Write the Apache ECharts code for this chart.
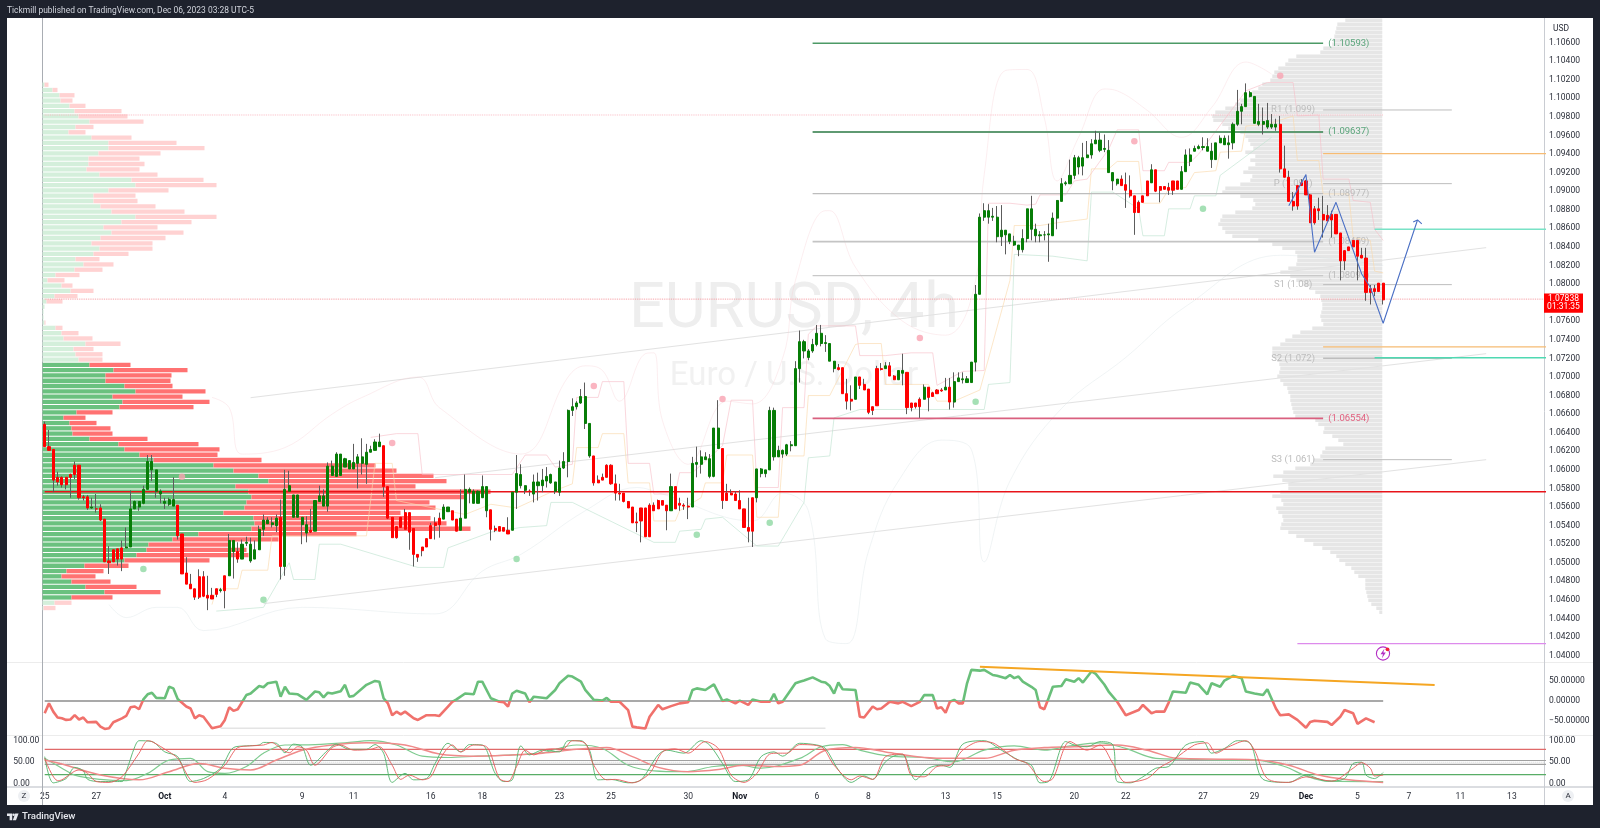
<!DOCTYPE html>
<html><head><meta charset="utf-8"><title>EURUSD 4h</title>
<style>html,body{margin:0;padding:0;background:#1e222d}#c{width:1600px;height:828px}</style>
<script src="https://cdn.jsdelivr.net/npm/echarts@6/dist/echarts.min.js"></script></head>
<body><div id="c"></div><script>
// prices are written in pips (price x 10000)
const opens=[10649,10625,10622,10592,10592,10592,10595,10605,10605,10571,
10571,10559,10558,10559,10547,10502,10514,10515,10516,10516,
10517,10558,10560,10564,10579,10600,10577,10574,10564,10563,
10561,10562,10531,10489,10477,10472,10485,10485,10465,10465,
10472,10470,10486,10486,10512,10512,10504,10521,10502,10504,
10514,10536,10542,10541,10540,10549,10496,10577,10549,10549,
10541,10532,10535,10534,10566,10561,10561,10594,10593,10594,
10603,10601,10601,10607,10607,10606,10619,10621,10625,10626,
10582,10549,10539,10549,10554,10554,10537,10509,10517,10526,
10540,10543,10548,10547,10555,10556,10547,10535,10548,10576,
10564,10564,10570,10556,10557,10537,10539,10538,10535,10535,
10576,10583,10578,10577,10574,10583,10583,10588,10586,10577,
10576,10602,10609,10664,10668,10672,10650,10615,10615,10589,
10592,10605,10605,10585,10575,10575,10566,10560,10544,10559,
10559,10562,10562,10567,10567,10562,10556,10582,10564,10562,
10561,10560,10606,10606,10611,10593,10593,10623,10623,10575,
10575,10574,10567,10558,10538,10570,10570,10596,10596,10600,
10614,10614,10617,10617,10626,10626,10709,10728,10721,10728,
10735,10736,10736,10717,10709,10710,10710,10682,10676,10676,
10700,10692,10687,10668,10709,10709,10709,10712,10701,10697,
10704,10705,10672,10672,10676,10676,10689,10683,10686,10686,
10686,10689,10673,10695,10697,10694,10694,10716,10789,10872,
10872,10872,10851,10851,10853,10846,10842,10837,10837,10849,
10859,10852,10852,10853,10853,10852,10871,10889,10908,10908,
10917,10926,10927,10936,10939,10951,10944,10945,10920,10911,
10908,10913,10907,10901,10895,10888,10895,10911,10909,10923,
10905,10905,10904,10911,10911,10902,10921,10932,10943,10946,
10947,10943,10934,10934,10952,10950,10950,10952,10972,10986,
10991,11002,10973,10972,10972,10969,10969,10969,10972,10924,
10915,10889,10906,10909,10911,10896,10881,10881,10875,10874,
10875,10875,10855,10836,10840,10847,10847,10831,10828,10795,
10795,10801,10801];
const highs=[10652,10643,10622,10598,10593,10592,10596,10609,10605,10573,
10573,10570,10574,10563,10547,10518,10514,10515,10524,10538,
10578,10567,10566,10583,10616,10616,10600,10579,10570,10570,
10592,10562,10531,10506,10488,10472,10493,10491,10486,10473,
10472,10473,10486,10531,10524,10522,10525,10528,10527,10524,
10540,10552,10549,10549,10552,10568,10600,10599,10573,10573,
10549,10550,10558,10567,10583,10579,10608,10610,10619,10617,
10613,10610,10628,10617,10634,10628,10626,10633,10639,10626,
10582,10549,10539,10549,10558,10554,10537,10509,10517,10526,
10543,10549,10554,10563,10560,10556,10547,10579,10595,10581,
10579,10578,10594,10582,10557,10540,10539,10538,10549,10576,
10616,10606,10583,10579,10595,10597,10601,10603,10596,10587,
10610,10619,10665,10677,10674,10687,10694,10650,10615,10594,
10596,10606,10606,10595,10585,10575,10566,10560,10554,10559,
10559,10564,10565,10568,10567,10562,10596,10582,10570,10564,
10570,10614,10625,10621,10619,10617,10645,10675,10623,10585,
10579,10577,10578,10558,10570,10570,10601,10602,10600,10668,
10667,10626,10622,10628,10631,10717,10750,10740,10730,10741,
10756,10756,10745,10736,10717,10714,10710,10698,10691,10700,
10700,10698,10687,10668,10712,10715,10716,10716,10702,10707,
10725,10705,10672,10672,10678,10692,10689,10684,10687,10688,
10699,10699,10705,10705,10705,10701,10716,10799,10876,10887,
10886,10882,10884,10885,10858,10854,10852,10842,10859,10881,
10895,10865,10857,10857,10865,10877,10890,10914,10911,10934,
10939,10938,10952,10954,10956,10965,10963,10961,10955,10920,
10913,10917,10920,10917,10895,10890,10895,10911,10929,10923,
10905,10905,10909,10911,10911,10927,10945,10946,10949,10950,
10958,10957,10952,10952,10960,10960,10960,10974,11009,10994,
11016,11008,11002,10994,10990,10995,10983,10978,10981,10949,
10922,10899,10906,10913,10912,10897,10884,10893,10895,10885,
10879,10875,10855,10836,10840,10847,10847,10839,10839,10799,
10799,10801,10801];
const lows=[10625,10621,10576,10583,10581,10579,10570,10590,10568,10567,
10557,10558,10554,10545,10501,10488,10501,10497,10491,10516,
10517,10558,10556,10563,10579,10588,10570,10564,10558,10561,
10561,10525,10488,10477,10472,10460,10461,10463,10449,10461,
10463,10468,10451,10486,10483,10500,10504,10518,10500,10504,
10514,10529,10542,10538,10533,10482,10486,10577,10549,10549,
10520,10522,10532,10534,10566,10561,10555,10594,10593,10594,
10603,10601,10601,10580,10595,10585,10619,10621,10625,10571,
10547,10527,10526,10538,10536,10514,10496,10501,10507,10517,
10526,10525,10527,10547,10555,10546,10534,10535,10548,10564,
10564,10564,10570,10549,10524,10533,10534,10534,10531,10535,
10558,10580,10574,10572,10565,10567,10576,10581,10585,10574,
10572,10601,10592,10658,10665,10671,10644,10613,10583,10586,
10589,10592,10584,10567,10567,10565,10559,10543,10533,10522,
10528,10528,10556,10558,10562,10535,10556,10558,10556,10557,
10547,10560,10592,10596,10611,10591,10592,10623,10558,10567,
10573,10567,10558,10538,10522,10517,10565,10592,10592,10600,
10610,10614,10613,10615,10620,10626,10694,10720,10718,10726,
10733,10733,10727,10717,10705,10707,10682,10665,10664,10676,
10687,10686,10660,10659,10669,10707,10709,10701,10697,10697,
10691,10660,10663,10666,10656,10676,10663,10679,10682,10684,
10686,10665,10667,10695,10693,10694,10694,10706,10789,10868,
10865,10868,10845,10841,10832,10843,10841,10830,10834,10845,
10847,10845,10845,10847,10824,10852,10859,10889,10906,10908,
10913,10918,10917,10936,10935,10951,10942,10942,10920,10901,
10906,10906,10882,10893,10853,10877,10888,10895,10909,10899,
10888,10902,10896,10896,10902,10902,10921,10927,10943,10945,
10944,10943,10925,10934,10952,10950,10935,10945,10970,10972,
10991,11001,10973,10970,10961,10967,10967,10965,10920,10915,
10889,10879,10880,10906,10896,10866,10864,10869,10850,10868,
10850,10854,10804,10815,10836,10840,10804,10828,10782,10778,
10787,10792,10778];
const closes=[10625,10621,10589,10587,10584,10584,10592,10595,10570,10570,
10559,10560,10558,10546,10501,10500,10501,10504,10504,10517,
10558,10566,10566,10579,10609,10609,10600,10577,10566,10568,
10568,10529,10488,10477,10472,10463,10463,10464,10462,10461,
10466,10471,10470,10524,10524,10504,10520,10522,10520,10514,
10536,10546,10546,10543,10548,10496,10579,10583,10573,10573,
10549,10541,10533,10567,10572,10572,10604,10604,10617,10617,
10612,10610,10608,10614,10614,10619,10622,10630,10630,10582,
10548,10527,10527,10538,10536,10533,10509,10506,10513,10517,
10526,10540,10541,10560,10560,10546,10534,10548,10579,10579,
10577,10577,10582,10582,10536,10535,10534,10534,10531,10576,
10596,10595,10583,10577,10587,10587,10589,10593,10595,10587,
10602,10609,10664,10668,10672,10679,10679,10650,10586,10586,
10589,10592,10585,10575,10574,10566,10559,10543,10543,10545,
10528,10528,10556,10558,10562,10556,10582,10558,10562,10561,
10560,10607,10608,10614,10614,10612,10645,10645,10567,10567,
10573,10567,10558,10538,10534,10534,10601,10601,10600,10664,
10664,10621,10621,10627,10627,10709,10738,10738,10728,10735,
10747,10747,10737,10736,10717,10708,10682,10674,10674,10700,
10691,10686,10662,10664,10669,10708,10712,10701,10697,10707,
10707,10667,10667,10668,10668,10689,10678,10679,10682,10685,
10689,10673,10695,10699,10698,10698,10716,10789,10872,10879,
10879,10873,10872,10858,10858,10854,10846,10842,10849,10881,
10881,10859,10853,10853,10854,10871,10890,10908,10909,10917,
10936,10936,10936,10939,10951,10955,10955,10946,10944,10920,
10913,10906,10901,10895,10877,10877,10888,10895,10923,10900,
10901,10902,10901,10901,10902,10921,10939,10939,10946,10948,
10948,10948,10943,10952,10957,10957,10952,10972,10986,10991,
11006,11006,11002,10975,10975,10976,10972,10972,10924,10915,
10889,10884,10884,10906,10896,10866,10866,10879,10869,10868,
10869,10854,10825,10825,10836,10840,10830,10828,10791,10791,
10792,10792,10783];

const priceTicks=[1.04,1.042,1.044,1.046,1.048,1.05,1.052,1.054,1.056,1.058,1.06,1.062,1.064,1.066,1.068,1.07,1.072,1.074,1.076,1.078,1.08,1.082,1.084,1.086,1.088,1.09,1.092,1.094,1.096,1.098,1.1,1.102,1.104,1.106];
const timeTickBars=[0,12,28,42,60,72,90,102,120,132,150,162,180,192,210,222,240,252,270,282,294,306,318,330,342];
const timeTickText=['25','27','Oct','4','9','11','16','18','23','25','30','Nov','6','8','13','15','20','22','27','29','Dec','5','7','11','13'];

// left volume profile, one entry per price row
const vpBuy=[2,10,17,18,27,32,36,47,33,26,49,66,66,56,46,46,44,57,89,93,66,51,51,58,69,93,79,61,69,58,49,57,51,33,41,32,13,5,19,28,12,4,2,1,1,2,13,19,21,43,31,33,36,47,71,63,63,82,93,70,80,77,34,21,27,29,30,47,76,82,97,111,171,191,216,226,193,206,209,204,202,181,211,212,209,156,130,106,104,94,82,42,24,19,29,43,62,29,12,1];
const vpSell=[4,5,15,12,16,47,49,54,18,17,40,68,96,62,51,56,53,58,72,81,60,42,44,55,73,81,70,54,72,65,61,53,35,24,30,28,24,17,11,23,23,16,0,0,0,1,7,17,29,35,20,27,24,41,74,66,65,48,70,70,87,74,36,22,27,39,40,58,80,95,78,108,162,163,175,178,180,242,215,183,191,177,177,192,219,158,106,82,100,112,85,44,37,34,39,51,56,41,17,12];
const vpTopPrice=1.10146, vpRowStep=0.000569;
// right volume profile, one entry per price row
const vrVolume=[37,45,46,47,48,49,50,59,62,86,94,97,104,108,110,112,120,124,130,134,142,147,157,167,170,169,160,154,142,137,134,132,129,137,127,132,127,134,139,130,132,142,157,160,142,129,127,130,147,160,162,164,160,157,150,124,110,100,87,85,85,86,94,102,92,86,79,73,67,62,61,60,60,61,62,61,59,70,82,90,97,102,110,110,109,105,103,102,103,105,102,99,95,94,92,92,91,90,89,87,67,64,58,59,50,44,39,57,60,62,69,72,87,99,109,100,94,94,102,110,101,99,106,104,100,99,101,102,94,86,78,69,60,52,46,43,37,31,28,24,17,17,17,16,15,14,11,6,3];
const vrTopPrice=1.1084, vrRowStep=0.00043056;

// horizontal levels
const levelPrices=[1.10593,1.09637,1.08973,1.08457,1.08091,1.06554,1.05765,1.09874,1.09081,1.07994,1.07201,1.0611,1.09404,1.07323,1.0859,1.07208,1.04129,1.0982,1.07838];
const levelFrom=[179,179,179,179,179,179,0,298,298,298,298,298,298,298,310,310,292,0,0];
const levelTo=[298,298,298,298,298,298,352,328,328,328,328,328,352,352,352,352,352,312,352];
const levelNames=['(1.10593)','(1.09637)','(1.08977)','(1.08459)','(1.08091)','(1.06554)','R1 (1.099)','P (1.091)','S1 (1.08)','S2 (1.072)','S3 (1.061)'];
const levelNamePrices=[1.10593,1.09637,1.08973,1.08457,1.08091,1.06554,1.09874,1.09081,1.07994,1.07201,1.0611];
const levelNameBars=[304,304,304,304,304,304,291,291,291,291,291];

// channel lines and projected path [bar, price]
const channelA=[[48,1.06777],[336,1.08392]];
const channelB=[[51,1.0456],[336,1.0611]];
const channelC=[[91,1.05916],[336,1.07251]];
const bluePath=[[290,1.08844],[294,1.09178],[296,1.08342],[301,1.0888],[307,1.08109],[309,1.07965],[312,1.07578],[320,1.0869]];
const blueArrow=[[319,1.08668],[320,1.0869],[321,1.08647]];

// signal dots [bar, price]
const greenDots=[[23,1.04933],[51,1.04603],[110,1.05041],[152,1.05303],[169,1.05432],[217,1.06734],[270,1.08812]];
const pinkDots=[[32,1.05927],[81,1.06289],[128,1.06903],[158,1.06763],[204,1.07419],[254,1.09537],[288,1.10243]];

// stepped channel [bar, pips]
const upperSteps=[[76,10635],[82,10639],[87,10639],[88,10595],[109,10595],[112,10616],[117,10616],[119,10603],[123,10606],[124,10678],[129,10678],[130,10695],[135,10695],[136,10607],[141,10607],[142,10574],[147,10574],[148,10597],[151,10597],[158,10626],[160,10675],[165,10675],[166,10581],[171,10581],[172,10667],[177,10667],[178,10746],[180,10755],[189,10755],[190,10723],[196,10723],[202,10726],[207,10726],[208,10691],[214,10706],[219,10707],[220,10887],[225,10887],[229,10885],[231,10886],[232,10896],[238,10896],[240,10911],[243,10913],[248,10945],[250,10966],[255,10966],[256,10922],[261,10922],[262,10931],[267,10931],[269,10940],[280,11008],[285,11017],[291,11017],[292,10981],[297,10982],[298,10913],[304,10913],[305,10890],[309,10888],[310,10859],[312,10847]];
const midSteps=[[39,10455],[40,10472],[45,10472],[46,10492],[52,10492],[53,10529],[75,10529],[77,10607],[81,10607],[82,10567],[98,10552],[104,10563],[110,10559],[118,10576],[123,10585],[124,10624],[129,10624],[130,10639],[135,10639],[136,10586],[141,10586],[142,10545],[147,10545],[148,10556],[153,10570],[154,10586],[158,10586],[159,10616],[165,10616],[166,10549],[171,10549],[172,10615],[177,10615],[178,10680],[183,10680],[189,10735],[190,10736],[195,10736],[196,10692],[206,10692],[208,10674],[212,10674],[218,10686],[225,10804],[226,10863],[232,10863],[236,10866],[243,10870],[244,10924],[248,10924],[250,10932],[255,10932],[256,10887],[260,10887],[262,10902],[266,10904],[268,10920],[273,10922],[274,10942],[279,10943],[280,10970],[285,10972],[291,10981],[292,10933],[297,10933],[298,10897],[304,10897],[305,10850],[309,10847],[310,10814],[312,10812]];
const lowerSteps=[[40,10448],[51,10452],[57,10500],[58,10482],[63,10482],[64,10520],[69,10520],[87,10495],[93,10495],[94,10516],[104,10533],[111,10538],[117,10540],[118,10565],[123,10565],[142,10522],[147,10522],[148,10534],[153,10536],[154,10547],[158,10549],[166,10518],[171,10518],[177,10565],[178,10613],[183,10615],[184,10656],[190,10665],[219,10665],[220,10692],[225,10694],[226,10832],[235,10830],[243,10825],[244,10899],[249,10899],[255,10881],[256,10852],[261,10852],[262,10881],[267,10881],[268,10895],[273,10895],[274,10917],[286,10958]];
// faint band curves [bar, pips]
const upperBand=[[39,10678],[43,10667],[46,10617],[56,10624],[67,10660],[74,10678],[87,10700],[92,10667],[111,10617],[122,10700],[126,10712],[130,10707],[134,10674],[140,10725],[142,10726],[144,10653],[150,10606],[159,10674],[165,10671],[172,10720],[175,10804],[182,10879],[183,10879],[189,10818],[200,10760],[210,10745],[217,10804],[219,10918],[224,11030],[229,11031],[233,10979],[236,10911],[241,10958],[247,11010],[250,11008],[257,10987],[265,10958],[272,10990],[280,11039],[286,11026]];
const lowerBand=[[15,10455],[19,10441],[26,10452],[31,10452],[37,10427],[60,10452],[91,10445],[102,10491],[111,10509],[126,10556],[138,10581],[144,10574],[165,10545],[172,10575],[178,10556],[182,10418],[187,10413],[192,10512],[199,10588],[209,10632],[216,10622],[219,10501],[225,10588],[237,10666],[252,10721],[266,10776],[288,10831],[312,10820]];

// upper oscillator [bar, value]
const oscBars=[0,1,2,3,4,5,6,7,8,9,10,12,13,14,15,16,18,19,20,21,22,23,24,25,26,28,29,30,31,33,34,35,36,37,39,41,42,43,44,45,47,48,50,51,52,54,55,56,57,59,61,63,64,65,66,67,69,70,71,72,75,77,78,79,80,81,82,83,84,86,87,89,91,92,94,95,96,98,100,101,102,104,106,107,108,109,110,112,113,114,117,119,120,122,123,125,126,128,130,131,132,134,136,137,138,140,141,143,144,146,148,150,151,152,154,156,158,159,161,162,164,165,167,169,170,171,172,175,176,177,179,181,182,183,184,185,186,189,190,191,193,194,195,197,199,200,202,204,205,207,208,209,210,211,212,213,214,215,216,218,219,221,222,224,225,226,227,228,230,231,232,233,234,235,237,238,240,241,242,244,245,247,248,250,252,255,256,258,259,261,262,263,266,267,269,271,272,274,275,277,279,280,282,284,285,287,288,290,292,294,295,296,299,300,302,303,305,306,308,310,312];
const oscValues=[-31,-6,-27,-42,-44,-48,-47,-36,-47,-42,-54,-53,-65,-71,-69,-54,-44,-38,-16,-14,-21,4,17,21,8,7,36,32,5,-14,-19,-44,-36,-40,-69,-64,-48,-16,-25,-21,15,19,38,35,45,49,11,36,19,17,3,24,22,9,21,19,25,41,11,13,41,51,49,7,-6,-36,-27,-34,-27,-44,-48,-36,-36,-38,-14,-2,4,19,17,49,49,7,-2,-3,-14,19,26,19,-3,11,7,28,45,64,62,49,28,3,1,8,-2,-2,-23,-65,-67,-70,-40,-10,-21,-13,-6,-3,28,32,28,42,0,4,-6,1,-10,4,-2,-2,18,-6,-2,45,49,52,60,49,47,38,19,47,30,28,-40,-42,-14,-21,-19,-2,-6,-2,-13,-2,15,15,-19,-16,-30,-2,3,-6,-6,45,79,77,79,66,64,58,66,58,62,49,36,28,-16,-21,7,36,38,55,49,58,47,75,69,42,24,-2,-36,-23,-10,-31,-27,-27,-4,24,21,47,41,17,45,36,52,64,58,24,19,15,30,-19,-36,-34,-48,-68,-53,-50,-53,-61,-40,-23,-31,-58,-44,-54];
const oscTrend=[[218,87],[324,40.6]];
const oscShort=[[41,-69],[182,-69]];

// lower oscillator [bar, value]
const fastK=[[0,63],[2,2],[5,12],[7,38],[9,30],[10,10],[13,5],[18,5],[19,28],[21,86],[22,100],[25,98],[28,74],[31,63],[34,5],[37,12],[41,36],[44,84],[47,88],[50,90],[51,96],[54,94],[56,72],[58,92],[60,86],[62,43],[66,78],[68,92],[71,80],[75,80],[77,91],[79,71],[81,3],[84,24],[86,9],[89,12],[91,47],[94,94],[97,74],[99,91],[102,90],[105,24],[107,5],[109,9],[111,88],[113,67],[116,78],[120,74],[122,100],[125,100],[127,78],[129,9],[132,10],[136,2],[139,9],[143,67],[145,78],[149,71],[153,100],[155,90],[158,47],[161,5],[164,9],[167,63],[170,74],[172,64],[176,94],[180,90],[182,82],[185,32],[188,3],[191,18],[193,10],[196,51],[199,67],[200,67],[203,9],[206,36],[209,43],[211,38],[214,92],[219,100],[223,78],[227,55],[230,43],[232,2],[234,5],[238,98],[240,90],[243,86],[246,98],[249,90],[250,5],[253,2],[256,16],[259,36],[262,40],[266,90],[270,98],[272,71],[275,82],[278,100],[281,94],[284,10],[290,3],[294,20],[299,6],[303,12],[305,47],[307,50],[308,20],[310,12],[312,26]];
const fastD=[[0,59],[3,7],[4,9],[8,32],[10,24],[12,5],[15,3],[18,16],[22,71],[24,100],[25,98],[29,74],[31,59],[35,3],[38,10],[42,43],[45,84],[48,88],[51,90],[53,96],[54,90],[57,72],[59,86],[61,78],[63,43],[67,84],[69,90],[72,78],[76,80],[78,86],[81,43],[83,10],[85,20],[88,9],[90,16],[92,55],[95,90],[97,74],[100,90],[103,86],[106,12],[108,5],[110,40],[112,78],[114,67],[117,80],[121,82],[123,100],[126,94],[128,43],[131,9],[133,10],[137,2],[141,24],[144,74],[147,81],[150,71],[154,98],[157,82],[160,20],[163,3],[166,24],[169,69],[171,71],[173,71],[176,91],[181,86],[184,43],[188,9],[190,18],[193,10],[196,63],[200,69],[202,20],[205,16],[208,40],[211,43],[214,78],[218,98],[221,95],[226,59],[229,47],[233,5],[235,12],[239,98],[243,78],[246,90],[249,47],[252,3],[257,12],[260,38],[263,55],[268,90],[271,95],[273,71],[276,86],[280,100],[282,78],[285,12],[290,3],[294,16],[300,6],[305,36],[307,49],[309,36],[310,18],[312,20]];
const slowK=[[0,59],[4,36],[7,20],[13,10],[19,7],[24,24],[29,55],[34,59],[38,28],[42,24],[47,40],[51,71],[56,90],[63,91],[70,95],[76,100],[82,90],[88,64],[94,61],[101,64],[109,67],[116,72],[124,90],[130,82],[136,43],[142,30],[149,28],[156,40],[162,43],[167,36],[176,59],[181,86],[186,91],[190,78],[197,64],[205,61],[212,51],[219,78],[226,88],[233,78],[239,88],[246,95],[252,82],[259,59],[266,57],[275,55],[282,55],[289,40],[294,18],[299,6],[312,5]];
const slowD=[[0,55],[5,43],[13,20],[22,9],[29,28],[36,47],[42,36],[48,32],[54,55],[60,78],[67,90],[75,95],[84,90],[92,69],[100,64],[109,67],[116,71],[124,80],[131,84],[137,63],[143,38],[150,28],[157,33],[163,43],[170,40],[176,43],[182,78],[189,84],[196,74],[205,61],[212,59],[219,59],[226,78],[233,84],[240,86],[250,90],[257,78],[264,59],[274,57],[283,55],[290,43],[297,20],[304,9],[312,3]];
const stochLevels=[80,21,54,45];

const PAD=8, BARS=358;
const pipToPrice=p=>p/10000;
const cats=new Array(BARS).fill('');
timeTickBars.forEach((b,k)=>{cats[b+PAD]=timeTickText[k];});
const blank=new Array(PAD).fill('-');
const wickData=blank.concat(opens.map((o,i)=>[o,closes[i],lows[i],highs[i]].map(pipToPrice)));
const bodyData=blank.concat(opens.map((o,i)=>{const c=closes[i];return [o,c,Math.min(o,c),Math.max(o,c)].map(pipToPrice);}));
const atBar=a=>a.map(p=>[p[0]+PAD,p[1]]);
const atBarPips=a=>a.map(p=>[p[0]+PAD,pipToPrice(p[1])]);

const fine={left:8.23,width:1535.82};
const grids=[
 {...fine,top:18,height:644},
 {...fine,top:662,height:73},
 {...fine,top:735,height:52}
];
const hiddenCat=g=>({type:'category',gridIndex:g,data:cats,show:false,boundaryGap:true});
const xAxes=[
 hiddenCat(0),hiddenCat(1),
 {type:'category',gridIndex:2,data:cats,boundaryGap:true,axisLine:{show:false},axisTick:{show:false},splitLine:{show:false},
  axisLabel:{interval:(i,v)=>v!=='',margin:5,fontFamily:'Roboto',fontSize:8.5,color:'#2a2e39',hideOverlap:false,
   formatter:v=>(v==='Oct'||v==='Nov'||v==='Dec')?'{b|'+v+'}':v,rich:{b:{fontWeight:'bold',fontSize:8.5,fontFamily:'Roboto',color:'#131722'}}}},
 {type:'value',gridIndex:0,show:false,min:-34.27,max:1501.55,splitLine:{show:false}},
 {type:'value',gridIndex:0,show:false,inverse:true,min:-161.75,max:1374.07,splitLine:{show:false}}
];
const rightLabel=(vals,fmt)=>({customValues:vals,formatter:fmt,margin:5,fontFamily:'Roboto',fontSize:8.5,color:'#2a2e39',showMinLabel:true,showMaxLabel:true});
const plainY=(g,min,max,pos,label)=>({type:'value',gridIndex:g,min,max,position:pos,axisLine:{show:false},axisTick:{show:false},splitLine:{show:false},axisLabel:label});
const yAxes=[
 plainY(0,1.03932,1.10864,'right',rightLabel(priceTicks,v=>v.toFixed(5))),
 plainY(1,-86.3,99,'right',rightLabel([-50,0,50],v=>v.toFixed(5).replace('-','\u2212'))),
 plainY(2,-7.7,113.3,'right',rightLabel([0,50,100],v=>v.toFixed(2))),
 plainY(2,-7.7,113.3,'left',{...rightLabel([0,50,100],v=>v.toFixed(2)),inside:true})
];
const line=(name,data,color,width,o={})=>({type:'line',name,data,showSymbol:false,symbol:'none',animation:false,silent:true,
 xAxisIndex:o.x||0,yAxisIndex:o.y||0,z:o.z||3,smooth:o.smooth||false,
 lineStyle:{color,width,type:o.type||'solid',opacity:o.opacity==null?1:o.opacity}});

const levelStyle=[['#4d9a66',1.6],['#5f9a72',2],['#bdbdbd',1.3],['#c4c4c4',1.6],['#c9c9c9',1.4],['#d9607f',1.8],['#e8141a',1.5],['#bdbdbd',1],['#bdbdbd',1],['#bdbdbd',1],['#bdbdbd',1.4],['#bdbdbd',1],['#f6bb73',1.3],['#f6bb73',1.3],['#79e2c6',1.5],['#4fd9b2',1.5],['#dd8bec',1.2],['#f9b3bd',0.9],['#f58b93',0.9]];
const levelSeries=levelPrices.map((p,k)=>line('level'+k,[[levelFrom[k]+PAD,p],[levelTo[k]+PAD,p]],levelStyle[k][0],levelStyle[k][1],{z:k>=17?2:4,type:k>=17?'dotted':'solid'}));

const vpRows=vpBuy.map((b,k)=>[vpTopPrice-k*vpRowStep,b,vpSell[k],k]);
const vrRows=vrVolume.map((v,k)=>[vrTopPrice-k*vrRowStep,v]);
const rectAt=(api,x0,x1,p,h,fill)=>{const a=api.coord([x0,p]),b=api.coord([x1,p]);return {type:'rect',shape:{x:Math.min(a[0],b[0]),y:a[1]-h/2,width:Math.abs(b[0]-a[0]),height:h},style:{fill}};};

// the oscillator turns green above its zero line and red below it
const oscTop=99, oscBottom=-86.3, oscZeroStop=oscTop/(oscTop-oscBottom);
const oscColor={type:'linear',x:0,y:662,x2:0,y2:735,global:true,colorStops:[{offset:0,color:'#69bf7a'},{offset:oscZeroStop,color:'#69bf7a'},{offset:oscZeroStop,color:'#f0716c'},{offset:1,color:'#f0716c'}]};

const nameColors=['#5aa57b','#5aa57b','#bcbcbc','#bcbcbc','#bcbcbc','#e2607f','#bcbcbc','#bcbcbc','#bcbcbc','#bcbcbc','#bcbcbc'];

const series=[
 {type:'custom',name:'Visible range volume',xAxisIndex:4,yAxisIndex:0,z:1,data:vrRows,encode:{x:1,y:0},silent:true,animation:false,
  renderItem:(par,api)=>rectAt(api,0,api.value(1),api.value(0),3.5,'#e6e6e6')},
 {type:'custom',name:'Session volume',xAxisIndex:3,yAxisIndex:0,z:1,data:vpRows,encode:{x:1,y:0},silent:true,animation:false,
  renderItem:(par,api)=>{const k=api.value(3),p=api.value(0),b=api.value(1),s=api.value(2),solid=k>=53&&k<=97;
   return {type:'group',children:[rectAt(api,0,b,p,4.3,solid?'#6ac17f':'#d4efdb'),rectAt(api,b,b+s,p,4.3,solid?'#ff7272':'#ffd2d2')]};}},
 line('channelA',atBar(channelA),'#e2e2e2',1,{z:2}),
 line('channelB',atBar(channelB),'#e2e2e2',1,{z:2}),
 line('channelC',atBar(channelC),'#e2e2e2',1,{z:2}),
 line('upperBand',atBarPips(upperBand),'#f6c9d0',0.7,{z:2,smooth:0.4,opacity:.45}),
 line('lowerBand',atBarPips(lowerBand),'#d5dfe2',0.7,{z:2,smooth:0.4,opacity:.5}),
 line('upperSteps',atBarPips(upperSteps),'#f7bcc6',0.8,{z:2,opacity:.75}),
 line('midSteps',atBarPips(midSteps),'#fbd9ac',0.8,{z:2,opacity:.8}),
 line('lowerSteps',atBarPips(lowerSteps),'#bfe3cf',0.8,{z:2,opacity:.8}),
 ...levelSeries,
 {type:'scatter',name:'levelNames',z:4,symbolSize:0,silent:true,animation:false,
  data:levelNames.map((n,k)=>({name:n,value:[levelNameBars[k]+PAD,levelNamePrices[k]],label:{color:nameColors[k]}})),
  label:{show:true,position:'inside',formatter:'{b}',fontFamily:'Roboto',fontSize:9.5,opacity:1}},
 {type:'candlestick',name:'EURUSD wicks',z:5,barWidth:1,data:wickData,silent:true,animation:false,itemStyle:{color:'#5c5c5c',color0:'#5c5c5c',borderColor:'#5c5c5c',borderColor0:'#5c5c5c',borderWidth:1}},
 {type:'candlestick',name:'EURUSD',z:6,barWidth:2.6,data:bodyData,silent:true,animation:false,itemStyle:{color:'#077d07',color0:'#ff0000',borderColor:'#077d07',borderColor0:'#ff0000',borderWidth:1}},
 {type:'scatter',name:'buy signals',z:6,symbolSize:6.5,data:atBar(greenDots),itemStyle:{color:'#8fd8a3'},silent:true,animation:false},
 {type:'scatter',name:'sell signals',z:6,symbolSize:6.5,data:atBar(pinkDots),itemStyle:{color:'#f9a3b1'},silent:true,animation:false},
 line('bluePath',atBar(bluePath),'#4a6fc4',1.1,{z:7}),
 line('blueArrow',atBar(blueArrow),'#4a6fc4',1.1,{z:7}),
 // oscillator
 line('zero',[[PAD,0],[312+PAD,0]],'#8c8c8c',1.5,{x:1,y:1}),
 line('oscShort',atBar(oscShort),'#e4e4e4',1.5,{x:1,y:1}),
 line('osc',oscBars.map((b,k)=>[b+PAD,oscValues[k]]),oscColor,2.6,{x:1,y:1,z:4}),
 line('oscTrend',atBar(oscTrend),'#f5a623',2,{x:1,y:1,z:5}),
 // stochastic
 ...stochLevels.map((v,k)=>line('stochLevel'+k,[[PAD,v],[352+PAD,v]],['#e06a6a','#58ad66','#a0a0a0','#a0a0a0'][k],1.2,{x:2,y:2,z:2})),
 line('stochMid',[[PAD,50],[352+PAD,50]],'#d0d0d0',1,{x:2,y:2,z:2,type:'dotted'}),
 line('slowK',atBar(slowK),'#7fcb90',1.2,{x:2,y:2,smooth:0.35}),
 line('slowD',atBar(slowD),'#f08a8a',1.5,{x:2,y:2,smooth:0.35}),
 line('fastK',atBar(fastK),'#4fb36a',0.9,{x:2,y:2,smooth:0.3,z:4}),
 line('fastD',atBar(fastD),'#e85b5b',0.9,{x:2,y:2,smooth:0.3,z:4})
];

const txt=(x,y,text,o={})=>({type:'text',z:o.z==null?20:o.z,silent:true,style:{x,y,text,fill:o.fill||'#2a2e39',fontSize:o.size||8.5,fontFamily:o.font||'Roboto',fontWeight:o.weight||'normal',textAlign:o.align||'left',textVerticalAlign:'middle'}});
const hl=(x1,y1,x2,y2,c,w=1)=>({type:'line',z:1,silent:true,shape:{x1,y1,x2,y2},style:{stroke:c,lineWidth:w}});
const graphic=[
 {type:'rect',z:-5,silent:true,shape:{x:7,y:18,width:1586,height:787},style:{fill:'#ffffff'}},
 txt(794,311,'EURUSD, 4h',{z:-4,size:63,fill:'#eeeeee',align:'center'}),
 txt(794,377,'Euro / U.S. Dollar',{z:-4,size:33,fill:'#f1f1f1',align:'center'}),
 txt(7,10.5,'Tickmill published on TradingView.com, Dec 06, 2023 03:28 UTC-5',{fill:'#d1d4dc',size:8.45}),
 txt(1553,28.5,'USD',{size:8.5}),
 hl(7,662.5,1593,662.5,'#ececec'),hl(7,735.5,1593,735.5,'#ececec'),hl(7,787,1593,787,'#b8bcc4',1.2),
 hl(42.5,18,42.5,805,'#a9adb3',1),hl(1544.5,18,1544.5,805,'#c9ccd2',1),
 {type:'rect',z:20,silent:true,shape:{x:1544,y:293.5,width:39,height:19.2},style:{fill:'#ff0000'}},
 txt(1563.5,298.5,'1.07838',{fill:'#ffffff',align:'center'}),
 txt(1563.5,307.3,'01:31:35',{fill:'#ffffff',align:'center'}),
 {type:'circle',z:19,silent:true,shape:{cx:24,cy:796,r:6},style:{fill:'#eef0f3'}},
 txt(24,796,'Z',{align:'center',size:8}),
 {type:'circle',z:19,silent:true,shape:{cx:1568,cy:796,r:6},style:{fill:'#eef0f3'}},
 txt(1568,796,'A',{align:'center',size:8}),
 {type:'circle',z:19,silent:true,shape:{cx:1383,cy:653.5,r:6.6},style:{fill:'#ffffff',stroke:'#b32ec4',lineWidth:1.1}},
 {type:'polygon',z:20,silent:true,shape:{points:[[1384.5,648.5],[1380.5,654.3],[1383,654.3],[1381.8,658.5],[1385.8,652.6],[1383.3,652.6]]},style:{fill:'#b32ec4'}},
 {type:'circle',z:21,silent:true,shape:{cx:1387.5,cy:649.3,r:1.9},style:{fill:'#f0203a'}},
 {type:'polygon',z:20,silent:true,shape:{points:[[7,813.5],[12.2,813.5],[12.2,820.2],[9.6,820.2],[9.6,816],[7,816]]},style:{fill:'#e6e8ee'}},
 {type:'circle',z:20,silent:true,shape:{cx:13.6,cy:814.8,r:1.25},style:{fill:'#e6e8ee'}},
 {type:'polygon',z:20,silent:true,shape:{points:[[15.2,813.5],[18.6,813.5],[16,820.2],[12.8,820.2]]},style:{fill:'#e6e8ee'}},
 txt(22,817,'TradingView',{fill:'#e6e8ee',size:9.6,weight:500})
];

const chart=echarts.init(document.getElementById('c'),null,{renderer:'canvas',width:1600,height:828});
chart.setOption({
 animation:false,backgroundColor:'#1e222d',
 grid:grids,xAxis:xAxes,yAxis:yAxes,series,graphic:{elements:graphic}
});
</script></body></html>
